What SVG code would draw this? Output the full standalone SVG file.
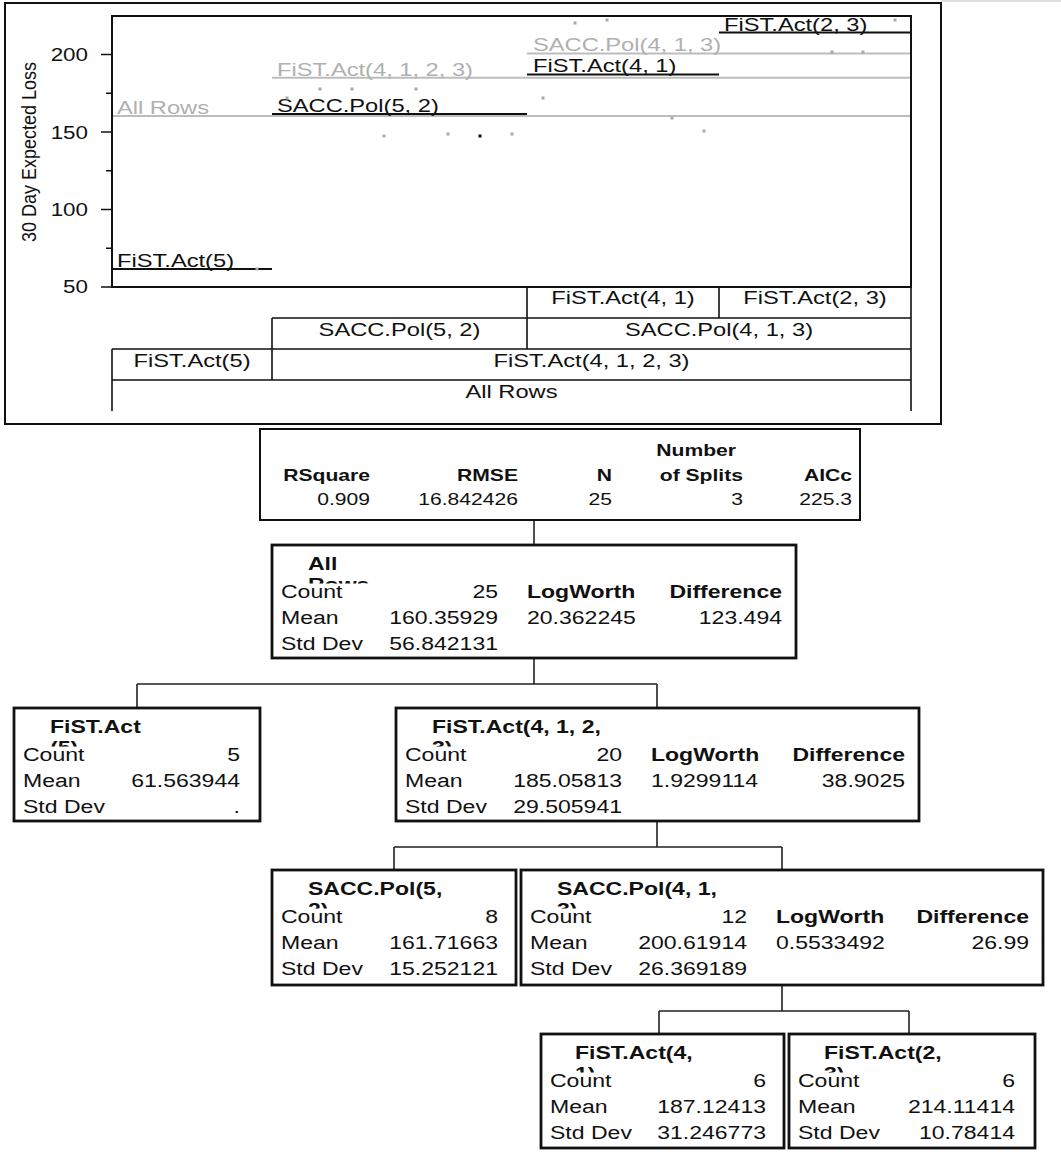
<svg xmlns="http://www.w3.org/2000/svg" width="1061" height="1156" viewBox="0 0 1061 1156">
  <defs>
    <style>
      text { font-family: "Liberation Sans", Arial, sans-serif; fill: #111; }
      .p { font-size: 18.5px; }
      .k { font-size: 17.5px; }
      .n { font-size: 18px; }
      .s { font-size: 16.5px; }
      .b { font-weight: bold; }
      .e { text-anchor: end; }
      .m { text-anchor: middle; }
      .gt { fill: #b0b0b0; }
      .frame { fill: none; stroke: #111; stroke-width: 2; }
      .box { fill: #fff; stroke: #111; stroke-width: 2.8; }
      .sumbox { fill: #fff; stroke: #111; stroke-width: 2; }
      .fit { stroke: #111; stroke-width: 2; fill: none; }
      .fitg { stroke: #bdbdbd; stroke-width: 2; fill: none; }
      .rule { stroke: #111; stroke-width: 1.6; fill: none; }
      .link { stroke: #222; stroke-width: 1.6; fill: none; }
      .pt { fill: #a9a9a9; }
      .ptk { fill: #111; }
    </style>
    <!-- wrapped node titles: only the top of the second line shows above the Count row -->
    <clipPath id="clip545"><rect x="0" y="545" width="1061" height="38.5"/></clipPath>
    <clipPath id="clip708"><rect x="0" y="708" width="1061" height="38.5"/></clipPath>
    <clipPath id="clip870"><rect x="0" y="870" width="1061" height="38.5"/></clipPath>
    <clipPath id="clip1034"><rect x="0" y="1034" width="1061" height="38.5"/></clipPath>
  </defs>

  <rect width="1061" height="1156" fill="#fff"/>
  <path d="M941 1 H1061" stroke="#d4d4d4" stroke-width="1.5"/>

  <!-- partition plot -->
  <g id="partition-plot">
    <rect class="frame" x="5" y="3" width="936" height="421"/>

    <!-- y axis -->
    <g id="y-axis">
      <path class="rule" d="M101 54.5 H112 M101 132 H112 M101 209.5 H112 M101 287 H112 M106 93.25 H112 M106 170.75 H112 M106 248.25 H112"/>
      <text class="k e" transform="translate(88 61) scale(1.28 1)">200</text>
      <text class="k e" transform="translate(88 138.5) scale(1.28 1)">150</text>
      <text class="k e" transform="translate(88 216) scale(1.28 1)">100</text>
      <text class="k e" transform="translate(88 293) scale(1.28 1)">50</text>
      <text class="n m" transform="translate(36 152) scale(1.15 1) rotate(-90)">30 Day Expected Loss</text>
    </g>

    <!-- fitted means per partition -->
    <g id="fits">
      <path class="fitg" d="M112 116 H911"/>
      <path class="fitg" d="M272 77.7 H911"/>
      <path class="fitg" d="M527 53.5 H911"/>
      <path class="fit" d="M112 269 H272"/>
      <path class="fit" d="M272 114 H527"/>
      <path class="fit" d="M527 74.5 H719"/>
      <path class="fit" d="M719 32.6 H911"/>
      <text class="p gt" transform="translate(117 114) scale(1.28 1)">All Rows</text>
      <text class="p gt" transform="translate(277 76) scale(1.28 1)">FiST.Act(4, 1, 2, 3)</text>
      <text class="p gt" transform="translate(533 51) scale(1.28 1)">SACC.Pol(4, 1, 3)</text>
      <text class="p" transform="translate(117 267) scale(1.28 1)">FiST.Act(5)</text>
      <text class="p" transform="translate(277 112) scale(1.28 1)">SACC.Pol(5, 2)</text>
      <text class="p" transform="translate(533 72) scale(1.28 1)">FiST.Act(4, 1)</text>
      <text class="p" transform="translate(724 31) scale(1.28 1)">FiST.Act(2, 3)</text>
    </g>

    <!-- observations -->
    <g id="points">
      <rect class="pt" x="255.5" y="267.5" width="3" height="3"/>
      <rect class="pt" x="285.5" y="96.5" width="3" height="3"/>
      <rect class="pt" x="318.5" y="87.5" width="3" height="3"/>
      <rect class="pt" x="350.5" y="87.5" width="3" height="3"/>
      <rect class="pt" x="414.5" y="87.5" width="3" height="3"/>
      <rect class="pt" x="382.5" y="134.5" width="3" height="3"/>
      <rect class="pt" x="446.5" y="132.5" width="3" height="3"/>
      <rect class="ptk" x="478.5" y="134.5" width="3" height="3"/>
      <rect class="pt" x="510.5" y="132.5" width="3" height="3"/>
      <rect class="pt" x="541.5" y="96.5" width="3" height="3"/>
      <rect class="pt" x="573.5" y="21.5" width="3" height="3"/>
      <rect class="pt" x="605.5" y="18.5" width="3" height="3"/>
      <rect class="pt" x="670.5" y="116.5" width="3" height="3"/>
      <rect class="pt" x="702.5" y="129.5" width="3" height="3"/>
      <rect class="pt" x="830.5" y="50.5" width="3" height="3"/>
      <rect class="pt" x="861.5" y="50.5" width="3" height="3"/>
      <rect class="pt" x="893.5" y="18.5" width="3" height="3"/>
    </g>

    <rect class="frame" x="112" y="16" width="799" height="271"/>

    <!-- split hierarchy under the plot -->
    <g id="split-axis">
      <path class="rule" d="M272 318 H911 M112 349 H911 M112 380 H911 M527 287 V349 M719 287 V318 M272 318 V380 M112 349 V411 M911 287 V411"/>
      <text class="p m" transform="translate(623 304) scale(1.28 1)">FiST.Act(4, 1)</text>
      <text class="p m" transform="translate(815 304) scale(1.28 1)">FiST.Act(2, 3)</text>
      <text class="p m" transform="translate(399.5 336) scale(1.28 1)">SACC.Pol(5, 2)</text>
      <text class="p m" transform="translate(719 336) scale(1.28 1)">SACC.Pol(4, 1, 3)</text>
      <text class="p m" transform="translate(192 367) scale(1.28 1)">FiST.Act(5)</text>
      <text class="p m" transform="translate(591.5 367) scale(1.28 1)">FiST.Act(4, 1, 2, 3)</text>
      <text class="p m" transform="translate(511.5 398) scale(1.28 1)">All Rows</text>
    </g>
  </g>

  <!-- tree connectors -->
  <g id="connectors">
    <path class="link" d="M534 520 V545"/>
    <path class="link" d="M534 658 V684 M137 684 H657 M137 684 V708 M657 684 V708"/>
    <path class="link" d="M657 821 V847 M394 847 H782 M394 847 V870 M782 847 V870"/>
    <path class="link" d="M782 985 V1011 M659 1011 H909 M659 1011 V1034 M909 1011 V1034"/>
  </g>

  <!-- fit summary -->
  <g id="summary">
    <rect class="sumbox" x="260" y="429" width="600" height="91"/>
    <text class="s b e" transform="translate(736 456) scale(1.28 1)">Number</text>
    <text class="s b e" transform="translate(370 481) scale(1.28 1)">RSquare</text>
    <text class="s b e" transform="translate(518 481) scale(1.28 1)">RMSE</text>
    <text class="s b e" transform="translate(612 481) scale(1.28 1)">N</text>
    <text class="s b e" transform="translate(743 481) scale(1.28 1)">of Splits</text>
    <text class="s b e" transform="translate(852 481) scale(1.28 1)">AICc</text>
    <text class="s e" transform="translate(370 505) scale(1.28 1)">0.909</text>
    <text class="s e" transform="translate(518 505) scale(1.28 1)">16.842426</text>
    <text class="s e" transform="translate(612 505) scale(1.28 1)">25</text>
    <text class="s e" transform="translate(743 505) scale(1.28 1)">3</text>
    <text class="s e" transform="translate(852 505) scale(1.28 1)">225.3</text>
  </g>

  <!-- root node -->
  <g id="node-all-rows">
    <rect class="box" x="272" y="545" width="524" height="113"/>
    <text class="n b" transform="translate(308 570) scale(1.28 1)">All</text>
    <g clip-path="url(#clip545)"><text class="n b" transform="translate(308 591) scale(1.28 1)">Rows</text></g>
    <text class="n" transform="translate(281 598) scale(1.28 1)">Count</text>
    <text class="n e" transform="translate(498 598) scale(1.28 1)">25</text>
    <text class="n b" transform="translate(527 598) scale(1.28 1)">LogWorth</text>
    <text class="n b e" transform="translate(782 598) scale(1.28 1)">Difference</text>
    <text class="n" transform="translate(281 624) scale(1.28 1)">Mean</text>
    <text class="n e" transform="translate(498 624) scale(1.28 1)">160.35929</text>
    <text class="n" transform="translate(527 624) scale(1.28 1)">20.362245</text>
    <text class="n e" transform="translate(782 624) scale(1.28 1)">123.494</text>
    <text class="n" transform="translate(281 650) scale(1.28 1)">Std Dev</text>
    <text class="n e" transform="translate(498 650) scale(1.28 1)">56.842131</text>
  </g>

  <g id="node-fist-5">
    <rect class="box" x="14" y="708" width="246" height="113"/>
    <text class="n b" transform="translate(50 733) scale(1.28 1)">FiST.Act</text>
    <g clip-path="url(#clip708)"><text class="n b" transform="translate(50 754) scale(1.28 1)">(5)</text></g>
    <text class="n" transform="translate(23 761) scale(1.28 1)">Count</text>
    <text class="n e" transform="translate(240 761) scale(1.28 1)">5</text>
    <text class="n" transform="translate(23 787) scale(1.28 1)">Mean</text>
    <text class="n e" transform="translate(240 787) scale(1.28 1)">61.563944</text>
    <text class="n" transform="translate(23 813) scale(1.28 1)">Std Dev</text>
    <text class="n e" transform="translate(240 813) scale(1.28 1)">.</text>
  </g>

  <g id="node-fist-4123">
    <rect class="box" x="396" y="708" width="523" height="113"/>
    <text class="n b" transform="translate(432 733) scale(1.28 1)">FiST.Act(4, 1, 2,</text>
    <g clip-path="url(#clip708)"><text class="n b" transform="translate(432 754) scale(1.28 1)">3)</text></g>
    <text class="n" transform="translate(405 761) scale(1.28 1)">Count</text>
    <text class="n e" transform="translate(622 761) scale(1.28 1)">20</text>
    <text class="n b" transform="translate(651 761) scale(1.28 1)">LogWorth</text>
    <text class="n b e" transform="translate(905 761) scale(1.28 1)">Difference</text>
    <text class="n" transform="translate(405 787) scale(1.28 1)">Mean</text>
    <text class="n e" transform="translate(622 787) scale(1.28 1)">185.05813</text>
    <text class="n" transform="translate(651 787) scale(1.28 1)">1.9299114</text>
    <text class="n e" transform="translate(905 787) scale(1.28 1)">38.9025</text>
    <text class="n" transform="translate(405 813) scale(1.28 1)">Std Dev</text>
    <text class="n e" transform="translate(622 813) scale(1.28 1)">29.505941</text>
  </g>

  <g id="node-sacc-52">
    <rect class="box" x="272" y="870" width="244" height="115"/>
    <text class="n b" transform="translate(308 895) scale(1.28 1)">SACC.Pol(5,</text>
    <g clip-path="url(#clip870)"><text class="n b" transform="translate(308 916) scale(1.28 1)">2)</text></g>
    <text class="n" transform="translate(281 923) scale(1.28 1)">Count</text>
    <text class="n e" transform="translate(498 923) scale(1.28 1)">8</text>
    <text class="n" transform="translate(281 949) scale(1.28 1)">Mean</text>
    <text class="n e" transform="translate(498 949) scale(1.28 1)">161.71663</text>
    <text class="n" transform="translate(281 975) scale(1.28 1)">Std Dev</text>
    <text class="n e" transform="translate(498 975) scale(1.28 1)">15.252121</text>
  </g>

  <g id="node-sacc-413">
    <rect class="box" x="521" y="870" width="522" height="115"/>
    <text class="n b" transform="translate(557 895) scale(1.28 1)">SACC.Pol(4, 1,</text>
    <g clip-path="url(#clip870)"><text class="n b" transform="translate(557 916) scale(1.28 1)">3)</text></g>
    <text class="n" transform="translate(530 923) scale(1.28 1)">Count</text>
    <text class="n e" transform="translate(747 923) scale(1.28 1)">12</text>
    <text class="n b" transform="translate(776 923) scale(1.28 1)">LogWorth</text>
    <text class="n b e" transform="translate(1029 923) scale(1.28 1)">Difference</text>
    <text class="n" transform="translate(530 949) scale(1.28 1)">Mean</text>
    <text class="n e" transform="translate(747 949) scale(1.28 1)">200.61914</text>
    <text class="n" transform="translate(776 949) scale(1.28 1)">0.5533492</text>
    <text class="n e" transform="translate(1029 949) scale(1.28 1)">26.99</text>
    <text class="n" transform="translate(530 975) scale(1.28 1)">Std Dev</text>
    <text class="n e" transform="translate(747 975) scale(1.28 1)">26.369189</text>
  </g>

  <g id="node-fist-41">
    <rect class="box" x="541" y="1034" width="243" height="114"/>
    <text class="n b" transform="translate(575 1059) scale(1.28 1)">FiST.Act(4,</text>
    <g clip-path="url(#clip1034)"><text class="n b" transform="translate(575 1080) scale(1.28 1)">1)</text></g>
    <text class="n" transform="translate(550 1087) scale(1.28 1)">Count</text>
    <text class="n e" transform="translate(766 1087) scale(1.28 1)">6</text>
    <text class="n" transform="translate(550 1113) scale(1.28 1)">Mean</text>
    <text class="n e" transform="translate(766 1113) scale(1.28 1)">187.12413</text>
    <text class="n" transform="translate(550 1139) scale(1.28 1)">Std Dev</text>
    <text class="n e" transform="translate(766 1139) scale(1.28 1)">31.246773</text>
  </g>

  <g id="node-fist-23">
    <rect class="box" x="789" y="1034" width="246" height="114"/>
    <text class="n b" transform="translate(824 1059) scale(1.28 1)">FiST.Act(2,</text>
    <g clip-path="url(#clip1034)"><text class="n b" transform="translate(824 1080) scale(1.28 1)">3)</text></g>
    <text class="n" transform="translate(798 1087) scale(1.28 1)">Count</text>
    <text class="n e" transform="translate(1015 1087) scale(1.28 1)">6</text>
    <text class="n" transform="translate(798 1113) scale(1.28 1)">Mean</text>
    <text class="n e" transform="translate(1015 1113) scale(1.28 1)">214.11414</text>
    <text class="n" transform="translate(798 1139) scale(1.28 1)">Std Dev</text>
    <text class="n e" transform="translate(1015 1139) scale(1.28 1)">10.78414</text>
  </g>
</svg>
